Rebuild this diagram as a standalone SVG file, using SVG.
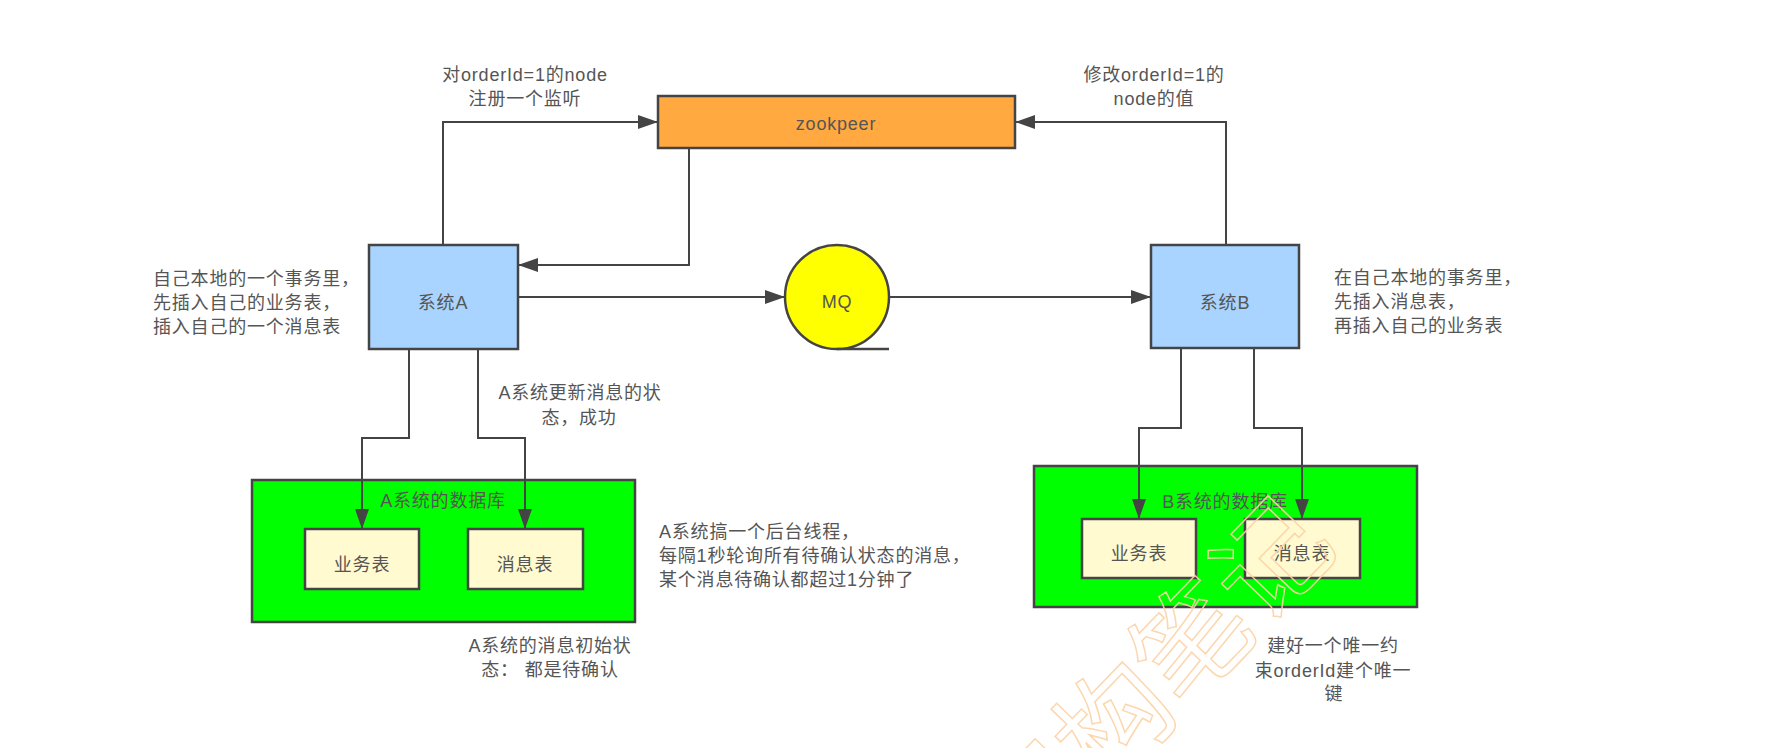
<svg xmlns="http://www.w3.org/2000/svg" width="1776" height="748" viewBox="0 0 1776 748">
<style>
text{font-family:"Liberation Sans","Noto Sans CJK SC",sans-serif;font-size:18px;fill:#555;letter-spacing:0.8px;}
.c{text-anchor:middle;}
.box{stroke:#444;stroke-width:2.5;}
.sys{fill:#a9d4ff;}
.db{fill:#00ff00;}
.tbl{fill:#fffad0;}
.edge{fill:none;stroke:#444;stroke-width:2;}
.wm{font-family:"Noto Sans CJK SC",sans-serif;font-size:113px;fill:none;stroke:#fcd3a6;stroke-width:1.5;letter-spacing:0;opacity:0.9;}
</style>
<defs>
<marker id="arr" markerUnits="userSpaceOnUse" markerWidth="20" markerHeight="14" refX="20" refY="7" orient="auto">
<path d="M0,0 L20,7 L0,14 z" fill="#444"/>
</marker>
</defs>
<rect width="1776" height="748" fill="#fff"/>

<g id="zookpeer">
<rect class="box" x="658" y="96" width="357" height="52" fill="#ffa940"/>
<text class="c" x="836" y="130">zookpeer</text>
</g>
<g id="systemA">
<rect class="box sys" x="369" y="245" width="149" height="104"/>
<text class="c" x="443" y="309">系统A</text>
</g>
<g id="mq">
<circle cx="837" cy="297" r="52" fill="#ffff00" stroke="#444" stroke-width="2.5"/>
<line x1="837" y1="349" x2="889" y2="349" stroke="#444" stroke-width="2.5"/>
<text class="c" x="837" y="308">MQ</text>
</g>
<g id="systemB">
<rect class="box sys" x="1151" y="245" width="148" height="103"/>
<text class="c" x="1225" y="309">系统B</text>
</g>
<g id="dbA">
<rect class="box db" x="252" y="480" width="383" height="142"/>
<text class="c" x="443" y="507">A系统的数据库</text>
</g>
<g id="bizA">
<rect class="box tbl" x="305" y="529" width="114" height="60"/>
<text class="c" x="362" y="571">业务表</text>
</g>
<g id="msgA">
<rect class="box tbl" x="468" y="529" width="115" height="60"/>
<text class="c" x="525" y="571">消息表</text>
</g>
<g id="dbB">
<rect class="box db" x="1034" y="466" width="383" height="141"/>
<text class="c" x="1225" y="508">B系统的数据库</text>
</g>
<g id="bizB">
<rect class="box tbl" x="1082" y="519" width="114" height="59"/>
<text class="c" x="1139" y="560">业务表</text>
</g>
<g id="msgB">
<rect class="box tbl" x="1245" y="519" width="115" height="59"/>
<text class="c" x="1302" y="560">消息表</text>
</g>

<g id="connectors">
<path class="edge" d="M443,245 V122 H658" marker-end="url(#arr)"/>
<path class="edge" d="M689,148 V265 H518" marker-end="url(#arr)"/>
<path class="edge" d="M1226,245 V122 H1015" marker-end="url(#arr)"/>
<path class="edge" d="M518,297 H785" marker-end="url(#arr)"/>
<path class="edge" d="M889,297 H1151" marker-end="url(#arr)"/>
<path class="edge" d="M409,349 V438 H362 V529" marker-end="url(#arr)"/>
<path class="edge" d="M478,349 V438 H525 V529" marker-end="url(#arr)"/>
<path class="edge" d="M1181,348 V428 H1139 V519" marker-end="url(#arr)"/>
<path class="edge" d="M1254,348 V428 H1302 V519" marker-end="url(#arr)"/>
</g>

<g id="labels">
<text class="c" x="525" y="81">对orderId=1的node</text>
<text class="c" x="525" y="105">注册一个监听</text>
<text class="c" x="1154" y="81">修改orderId=1的</text>
<text class="c" x="1154" y="105">node的值</text>
<text x="153" y="285">自己本地的一个事务里，</text>
<text x="153" y="309">先插入自己的业务表，</text>
<text x="153" y="333">插入自己的一个消息表</text>
<text x="1334" y="284">在自己本地的事务里，</text>
<text x="1334" y="308">先插入消息表，</text>
<text x="1334" y="332">再插入自己的业务表</text>
<text class="c" x="580" y="399">A系统更新消息的状</text>
<text class="c" x="579" y="424">态，成功</text>
<text x="659" y="538">A系统搞一个后台线程，</text>
<text x="659" y="562">每隔1秒轮询所有待确认状态的消息，</text>
<text x="659" y="586">某个消息待确认都超过1分钟了</text>
<text class="c" x="550" y="652">A系统的消息初始状</text>
<text class="c" x="550" y="676">态： 都是待确认</text>
<text class="c" x="1333" y="652">建好一个唯一约</text>
<text class="c" x="1333" y="677">束orderId建个唯一</text>
<text class="c" x="1334" y="700">键</text>
</g>

<text class="wm c" transform="translate(1147,676) rotate(-46)" dominant-baseline="central">架构笔记</text>
</svg>
